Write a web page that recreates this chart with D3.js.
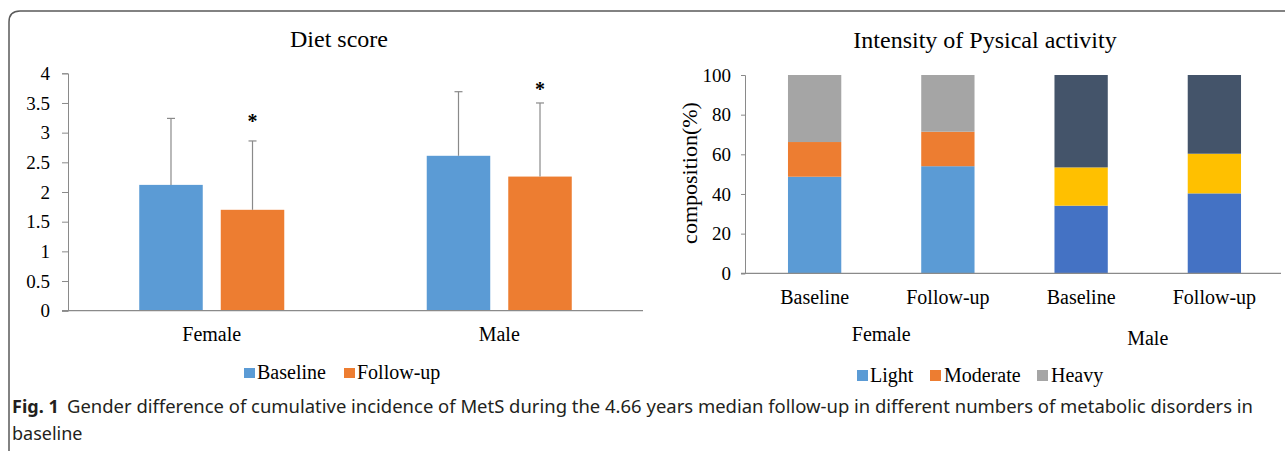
<!DOCTYPE html>
<html>
<head>
<meta charset="utf-8">
<script src="https://cdn.jsdelivr.net/npm/d3@7"></script>
<style>
  html, body { margin: 0; padding: 0; background: #fff; }
  svg { display: block; }
  text { font-family: "Liberation Serif", "Times New Roman", serif; fill: #000; }
  .caption { font-family: "Noto Sans", "Open Sans", sans-serif; fill: #231f20; }
</style>
</head>
<body>
<div id="chart-container"></div>
<script>
// diet score panel
const groups = ["Female", "Male"];
const periods = ["Baseline", "Follow-up"];
const dietMean = [[2.12, 1.70], [2.61, 2.26]];
const dietUpper = [[3.24, 2.86], [3.69, 3.50]];
const dietTicks = [0, 0.5, 1, 1.5, 2, 2.5, 3, 3.5, 4];
const starAt = [3.26, 3.81];

// physical activity panel
const paBars = ["Female Baseline", "Female Follow-up", "Male Baseline", "Male Follow-up"];
const paBarLabels = ["Baseline", "Follow-up", "Baseline", "Follow-up"];
const intensity = ["Light", "Moderate", "Heavy"];
const light = [48.7, 54.0, 34.1, 40.3];
const moderate = [17.5, 17.4, 19.3, 20.0];
const heavy = [33.8, 28.6, 46.6, 39.7];
const paTicks = [0, 20, 40, 60, 80, 100];

const colDiet = ["#5b9bd5", "#ed7d31"];
const colFemale = ["#5b9bd5", "#ed7d31", "#a5a5a5"];
const colMale = ["#4472c4", "#ffc000", "#44546a"];
const axisCol = "#8a8a8a";

const W = 1285, H = 451;
const svg = d3.select("#chart-container").append("svg")
    .attr("width", W).attr("height", H);

// frame
svg.append("path")
    .attr("d", "M9,451 V22 Q9,11 20,11 H1285")
    .attr("fill", "none").attr("stroke", "#5a5a5a").attr("stroke-width", 1.5);

// ---------- Diet score ----------
const y1 = d3.scaleLinear().domain([0, 4]).range([310.7, 73.3]);
const x0 = d3.scaleBand().domain(groups).range([68, 643]);
const x1 = d3.scaleBand().domain(periods).range([0, x0.bandwidth()])
    .paddingInner(0.221).paddingOuter(0.874);

svg.append("text").attr("x", 339).attr("y", 47)
    .attr("text-anchor", "middle").style("font-size", "24px").text("Diet score");

const yAx1 = svg.append("g").attr("transform", "translate(68,0)")
    .call(d3.axisLeft(y1).tickValues(dietTicks).tickSize(6).tickPadding(12).tickFormat(d3.format("")));
yAx1.selectAll("text").style("font-size", "19px").style("font-family", "Liberation Serif");
yAx1.selectAll("line, path").attr("stroke", axisCol);

groups.forEach((g, gi) => {
    periods.forEach((p, pi) => {
        const bx = x0(g) + x1(p);
        const bw = x1.bandwidth();
        svg.append("rect")
            .attr("x", bx).attr("width", bw)
            .attr("y", y1(dietMean[gi][pi]))
            .attr("height", y1(0) - y1(dietMean[gi][pi]))
            .attr("fill", colDiet[pi]);
        const cx = bx + bw / 2;
        svg.append("line")
            .attr("x1", cx).attr("x2", cx)
            .attr("y1", y1(dietMean[gi][pi])).attr("y2", y1(dietUpper[gi][pi]))
            .attr("stroke", axisCol).attr("stroke-width", 1.2);
        svg.append("line")
            .attr("x1", cx - 4).attr("x2", cx + 4)
            .attr("y1", y1(dietUpper[gi][pi])).attr("y2", y1(dietUpper[gi][pi]))
            .attr("stroke", axisCol).attr("stroke-width", 1.2);
        if (pi === 1) {
            svg.append("text").attr("x", cx).attr("y", y1(starAt[gi]) + 11)
                .attr("text-anchor", "middle").style("font-size", "20px")
                .style("font-weight", "bold").text("*");
        }
    });
    svg.append("text").attr("x", x0(g) + x0.bandwidth() / 2).attr("y", 341)
        .attr("text-anchor", "middle").style("font-size", "20px").text(g);
});

svg.append("line").attr("x1", 62).attr("x2", 643)
    .attr("y1", y1(0)).attr("y2", y1(0)).attr("stroke", axisCol).attr("stroke-width", 1.2);

// legend
const leg1 = [{ x: 244, tx: 257 }, { x: 344, tx: 357 }];
periods.forEach((p, i) => {
    svg.append("rect").attr("x", leg1[i].x).attr("y", 368).attr("width", 11).attr("height", 10)
        .attr("fill", colDiet[i]);
    svg.append("text").attr("x", leg1[i].tx).attr("y", 379).style("font-size", "20px").text(p);
});

// ---------- Physical activity ----------
const y2 = d3.scaleLinear().domain([0, 100]).range([273.3, 75]);
const xb = d3.scaleBand().domain(paBars).range([748, 1281]).paddingInner(0.6).paddingOuter(0.3);

svg.append("text").attr("x", 985).attr("y", 48)
    .attr("text-anchor", "middle").style("font-size", "24px").text("Intensity of Pysical activity");

const yAx2 = svg.append("g").attr("transform", "translate(745,0)")
    .call(d3.axisLeft(y2).tickValues(paTicks).tickSize(4).tickPadding(10));
yAx2.selectAll("text").style("font-size", "19px").style("font-family", "Liberation Serif");
yAx2.selectAll("line, path").attr("stroke", axisCol);

svg.append("text")
    .attr("transform", "translate(697,173) rotate(-90)")
    .attr("text-anchor", "middle").style("font-size", "22px").text("composition(%)");

const stack = d3.stack().keys([0, 1, 2]).value((d, k) => d[k]);
const rows = paBars.map((b, i) => [light[i], moderate[i], heavy[i]]);
const series = stack(rows);

series.forEach((s, k) => {
    s.forEach((seg, i) => {
        const cols = i < 2 ? colFemale : colMale;
        svg.append("rect")
            .attr("x", xb(paBars[i])).attr("width", xb.bandwidth())
            .attr("y", y2(seg[1])).attr("height", y2(seg[0]) - y2(seg[1]))
            .attr("fill", cols[k]);
    });
});

svg.append("line").attr("x1", 741).attr("x2", 1281)
    .attr("y1", y2(0)).attr("y2", y2(0)).attr("stroke", axisCol).attr("stroke-width", 1.2);

paBars.forEach((b, i) => {
    svg.append("text").attr("x", xb(b) + xb.bandwidth() / 2).attr("y", 304)
        .attr("text-anchor", "middle").style("font-size", "20px").text(paBarLabels[i]);
});
groups.forEach((g, gi) => {
    const a = xb(paBars[gi * 2]), b = xb(paBars[gi * 2 + 1]) + xb.bandwidth();
    svg.append("text").attr("x", (a + b) / 2).attr("y", gi === 0 ? 341 : 345)
        .attr("text-anchor", "middle").style("font-size", "20px").text(g);
});

const leg2 = [{ x: 857, tx: 870 }, { x: 930, tx: 944 }, { x: 1037, tx: 1051 }];
intensity.forEach((t, i) => {
    svg.append("rect").attr("x", leg2[i].x).attr("y", 370).attr("width", 11).attr("height", 11)
        .attr("fill", colFemale[i]);
    svg.append("text").attr("x", leg2[i].tx).attr("y", 382).style("font-size", "20px").text(t);
});

// ---------- caption ----------
svg.append("text").attr("class", "caption").attr("x", 12).attr("y", 413)
    .style("font-size", "18px").style("font-weight", "bold").text("Fig. 1");
svg.append("text").attr("class", "caption").attr("x", 67).attr("y", 413)
    .attr("textLength", 1186).attr("lengthAdjust", "spacingAndGlyphs")
    .style("font-size", "18px")
    .text("Gender difference of cumulative incidence of MetS during the 4.66 years median follow-up in different numbers of metabolic disorders in");
svg.append("text").attr("class", "caption").attr("x", 12).attr("y", 440)
    .style("font-size", "18px").text("baseline");
</script>
</body>
</html>
